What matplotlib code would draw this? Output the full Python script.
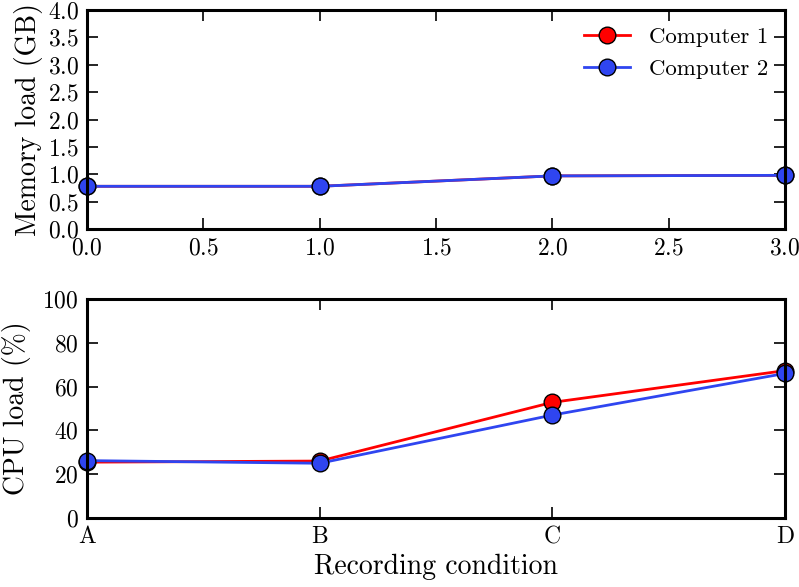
import matplotlib
matplotlib.use('Agg')
import matplotlib.pyplot as plt

plt.rcParams['font.family'] = 'serif'
plt.rcParams['font.serif'] = ['cmr10']
plt.rcParams['axes.formatter.use_mathtext'] = True
plt.rcParams['mathtext.fontset'] = 'cm'

conditions = ['A', 'B', 'C', 'D']
x = [0, 1, 2, 3]

mem_comp1 = [0.78, 0.78, 0.97, 0.98]
mem_comp2 = [0.78, 0.78, 0.97, 0.98]
cpu_comp1 = [25.5, 26.0, 52.8, 67.3]
cpu_comp2 = [26.2, 25.0, 47.0, 66.0]

red = '#ff0000'
blue = '#2f45f0'

fig = plt.figure(figsize=(7.99, 5.87), dpi=100)
ax1 = fig.add_axes([87/799, 1-229/587, 698/799, 219/587])
ax2 = fig.add_axes([87/799, 1-518/587, 698/799, 219/587])

for ax in (ax1, ax2):
    for s in ax.spines.values():
        s.set_linewidth(2.2)
    ax.tick_params(direction='in', length=8, width=1.2, top=True, right=True,
                   labelsize=17, pad=6)

ax1.plot(x, mem_comp1, '-o', color=red, lw=2, ms=12, mec='black', mew=1, label='Computer 1')
ax1.plot(x, mem_comp2, '-o', color=blue, lw=2, ms=12, mec='black', mew=1, label='Computer 2')
ax1.set_xlim(0, 3)
ax1.set_ylim(0, 4)
ax1.set_xticks([0, 0.5, 1, 1.5, 2, 2.5, 3])
ax1.set_yticks([0, 0.5, 1, 1.5, 2, 2.5, 3, 3.5, 4])
ax1.set_ylabel('Memory load (GB)', fontsize=20, labelpad=3)
ax1.legend(loc='upper right', frameon=False, numpoints=1, fontsize=16.5,
           handlelength=2.0, borderaxespad=0.35, labelspacing=0.5, handletextpad=0.8)

ax2.plot(x, cpu_comp1, '-o', color=red, lw=2, ms=12, mec='black', mew=1)
ax2.plot(x, cpu_comp2, '-o', color=blue, lw=2, ms=12, mec='black', mew=1)
ax2.set_xlim(0, 3)
ax2.set_ylim(0, 100)
ax2.set_xticks(x)
ax2.set_xticklabels(conditions)
ax2.set_yticks([0, 20, 40, 60, 80, 100])
ax2.set_ylabel('CPU load (%)', fontsize=20, labelpad=8)
ax2.set_xlabel('Recording condition', fontsize=20, labelpad=4)

for ax in (ax1, ax2):
    for line in ax.lines:
        line.set_clip_on(False)

fig.savefig('out.png', dpi=100)
